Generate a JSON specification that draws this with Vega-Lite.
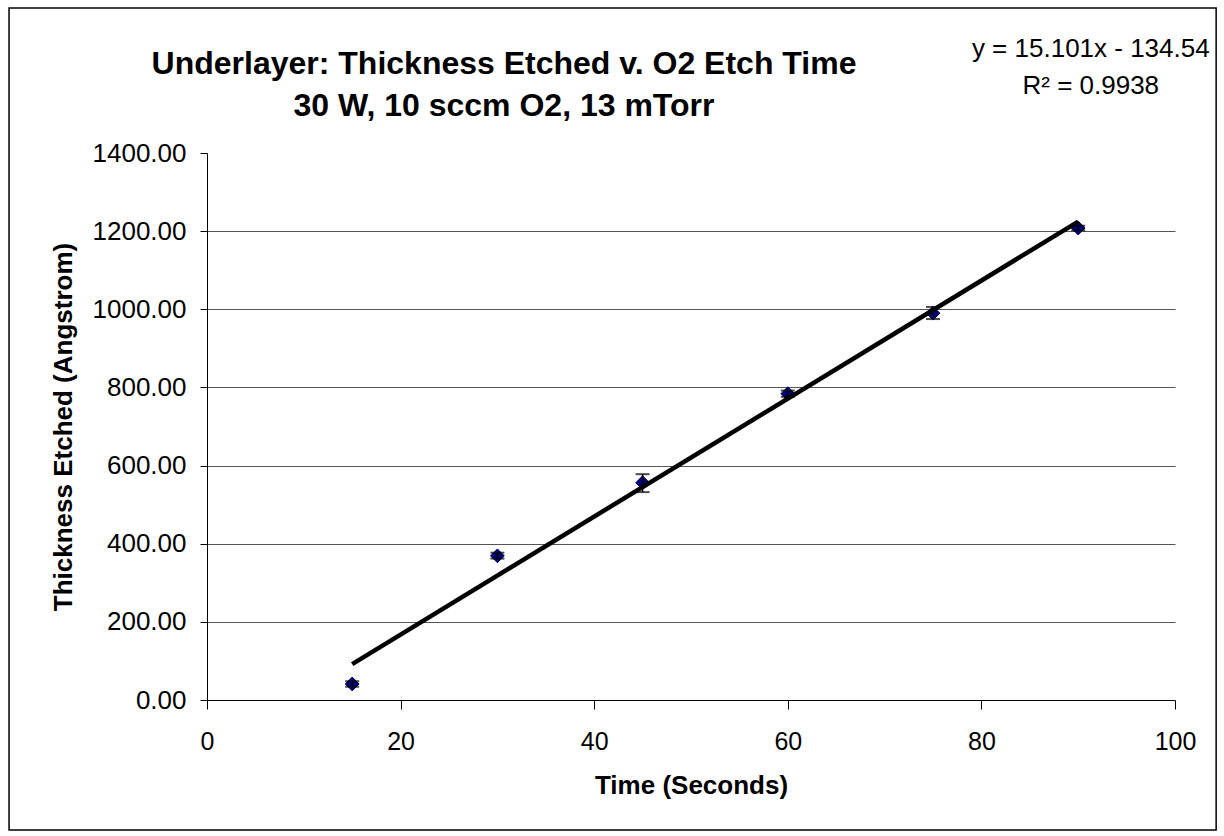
{
  "$schema": "https://vega.github.io/schema/vega-lite/v6.json",
  "width": 968,
  "height": 547,
  "autosize": "none",
  "padding": {"left": 207, "top": 153, "right": 49, "bottom": 136},
  "background": "white",
  "config": {
    "font": "Liberation Sans",
    "view": {"stroke": null},
    "axis": {"labelFont": "Liberation Sans", "titleFont": "Liberation Sans", "labelColor": "black", "titleColor": "black", "domainColor": "black", "tickColor": "black"}
  },
  "title": {
    "text": ["Underlayer: Thickness Etched v. O2 Etch Time", "30 W, 10 sccm O2, 13 mTorr"],
    "font": "Liberation Sans",
    "fontSize": 32,
    "fontWeight": "bold",
    "color": "black",
    "lineHeight": 42,
    "anchor": "middle",
    "frame": "group",
    "dx": -187,
    "offset": -116
  },
  "datasets": {
    "measured": [
      {"time": 15, "thickness": 41, "lo": 34, "hi": 48},
      {"time": 30, "thickness": 369, "lo": 362, "hi": 377},
      {"time": 45, "thickness": 556, "lo": 532, "hi": 578},
      {"time": 60, "thickness": 784, "lo": 776, "hi": 792},
      {"time": 75, "thickness": 990, "lo": 975, "hi": 1006},
      {"time": 90, "thickness": 1208, "lo": 1202, "hi": 1214}
    ],
    "trend": [
      {"time": 15, "fit": 91.98},
      {"time": 90, "fit": 1224.55}
    ]
  },
  "layer": [
    {
      "data": {"values": [{}]},
      "mark": {"type": "rect", "fill": null, "fillOpacity": 0, "stroke": "black", "strokeWidth": 1.5},
      "encoding": {
        "x": {"datum": -20.45, "type": "quantitative"},
        "x2": {"datum": 104.25},
        "y": {"datum": 1771, "type": "quantitative"},
        "y2": {"datum": -333}
      }
    },
    {
      "data": {"name": "measured"},
      "mark": {"type": "point", "shape": "diamond", "filled": true, "fill": "#000080", "stroke": "#00004a", "strokeWidth": 1, "size": 190, "opacity": 1},
      "encoding": {
        "x": {
          "field": "time", "type": "quantitative",
          "scale": {"domain": [0, 100], "nice": false, "zero": true},
          "axis": {
            "title": "Time (Seconds)",
            "values": [0, 20, 40, 60, 80, 100],
            "grid": false,
            "tickSize": 9,
            "labelFontSize": 25,
            "labelPadding": 20,
            "titleFontSize": 26,
            "titleFontWeight": "bold",
            "titlePadding": 18,
            "labelFlush": false,
            "labelOverlap": false
          }
        },
        "y": {
          "field": "thickness", "type": "quantitative",
          "title": "Thickness Etched (Angstrom)",
          "scale": {"domain": [0, 1400], "nice": false},
          "axis": {
            "values": [0, 200, 400, 600, 800, 1000, 1200, 1400],
            "format": ".2f",
            "grid": true,
            "gridColor": "#555555",
            "gridWidth": 1,
            "gridOpacity": {"condition": {"test": "datum.value >= 1400 || datum.value <= 0", "value": 0}, "value": 1},
            "tickSize": 7,
            "labelFontSize": 26,
            "labelPadding": 14,
            "titleFontSize": 26,
            "titleFontWeight": "bold",
            "titlePadding": 16,
            "labelFlush": false,
            "labelOverlap": false
          }
        }
      }
    },
    {
      "data": {"name": "measured"},
      "mark": {"type": "errorbar", "color": "black", "thickness": 1.5, "ticks": {"size": 14, "color": "black", "thickness": 2}},
      "encoding": {
        "x": {"field": "time", "type": "quantitative", "title": "Time (Seconds)"},
        "y": {"field": "lo", "type": "quantitative", "title": "Thickness Etched (Angstrom)"},
        "y2": {"field": "hi"}
      }
    },
    {
      "data": {"name": "trend"},
      "mark": {"type": "line", "color": "black", "strokeWidth": 4.5},
      "encoding": {
        "x": {"field": "time", "type": "quantitative", "title": "Time (Seconds)"},
        "y": {"field": "fit", "type": "quantitative", "title": "Thickness Etched (Angstrom)"}
      }
    },
    {
      "data": {"values": [{}]},
      "mark": {"type": "text", "text": ["y = 15.101x - 134.54", "R\u00b2 = 0.9938"], "font": "Liberation Sans", "fontSize": 26, "lineHeight": 37, "align": "center", "baseline": "middle", "color": "black"},
      "encoding": {
        "x": {"datum": 91.3, "type": "quantitative"},
        "y": {"datum": 1667, "type": "quantitative"}
      }
    }
  ]
}
